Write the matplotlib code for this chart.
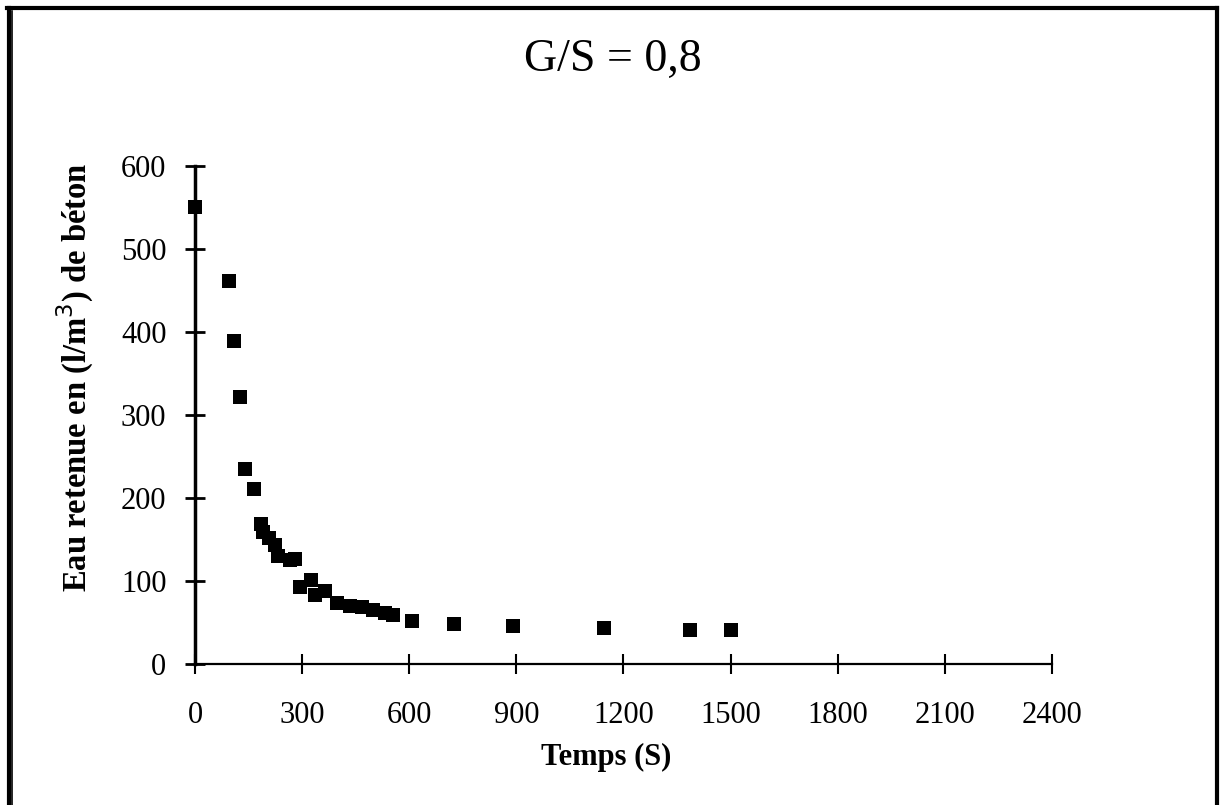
import matplotlib
matplotlib.use("Agg")
import matplotlib.pyplot as plt
from matplotlib.lines import Line2D

# Water retained vs time, G/S = 0.8
temps = [0, 95, 109, 126, 140, 165, 184, 191, 208, 224, 233, 266, 280, 294,
         324, 336, 364, 397, 434, 467, 499, 532, 555, 608, 725, 891, 1145,
         1386, 1501]
eau = [551, 462, 389, 322, 235, 211, 169, 159, 152, 143, 130, 125, 126, 93,
       101, 83, 88, 74, 70, 69, 65, 61, 59, 52, 48, 46, 43, 41, 41]

x_ticks = [0, 300, 600, 900, 1200, 1500, 1800, 2100, 2400]
y_ticks = [0, 100, 200, 300, 400, 500, 600]

plt.rcParams["font.family"] = ["Liberation Serif", "DejaVu Serif"]

fig = plt.figure(figsize=(12.23, 8.05), dpi=100)
ax = fig.add_axes([0.1594, 0.1752, 0.7008, 0.6186])

ax.scatter(temps, eau, marker="s", s=100, color="black", linewidths=0,
           zorder=3, clip_on=False)

ax.set_xlim(0, 2400)
ax.set_ylim(0, 600)
ax.set_xticks(x_ticks)
ax.set_yticks(y_ticks)
ax.tick_params(axis="both", direction="inout", length=15, width=1.5,
               labelsize=22)
ax.tick_params(axis="x", pad=19)
ax.tick_params(axis="y", width=2, pad=13)

for side in ("top", "right"):
    ax.spines[side].set_visible(False)
ax.spines["left"].set_linewidth(2.5)
ax.spines["bottom"].set_linewidth(1.6)

ax.set_xlabel("Temps (S)", fontsize=22, fontweight="bold")
ax.set_ylabel("Eau retenue en (l/m$^3$) de béton", fontsize=23.5,
              fontweight="bold")
ax.xaxis.set_label_coords(0.48, -0.159)
ax.yaxis.set_label_coords(-0.115, 0.575)

fig.text(0.501, 0.926, "G/S = 0,8", fontsize=33, ha="center", va="center")

# frame around the figure
frame = [
    ([0.006, 0.9955], [0.9905, 0.9905], 3),
    ([0.0070, 0.0070], [0.0, 0.9905], 3),
    ([0.0100, 0.0100], [0.0, 0.986], 1.2),
    ([0.9955, 0.9955], [0.0, 0.9905], 3),
]
for xs, ys, lw in frame:
    fig.add_artist(Line2D(xs, ys, transform=fig.transFigure, color="black",
                          linewidth=lw))

fig.savefig("out.png", dpi=100)
